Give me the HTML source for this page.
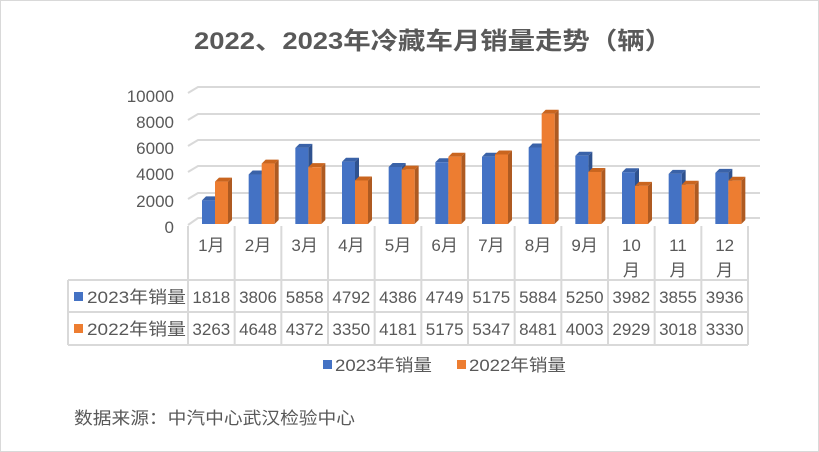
<!DOCTYPE html>
<html><head><meta charset="utf-8"><style>
html,body{margin:0;padding:0;background:#fff}
svg{display:block}
text{font-family:"Liberation Sans","Noto Sans CJK SC",sans-serif;fill:#595959}
</style></head><body>
<svg width="819" height="452" viewBox="0 0 819 452" xmlns="http://www.w3.org/2000/svg">
<rect x="0.5" y="0.5" width="818" height="451" fill="#fff" stroke="#d9d9d9"/>
<text x="433" y="49" text-anchor="middle" font-size="24" font-weight="bold" textLength="478" lengthAdjust="spacingAndGlyphs">2022、2023年冷藏车月销量走势（辆）</text>
<g stroke="#d9d9d9" stroke-width="2" fill="none">
<path d="M188 93 L198 87 L760 87"/>
<path d="M188 120 L198 114 L760 114"/>
<path d="M188 146 L198 140 L760 140"/>
<path d="M188 172 L198 166 L760 166"/>
<path d="M188 199 L198 193 L760 193"/>
<path d="M188 225 L198 218 L760 218"/>
</g>
<g font-size="17" text-anchor="end">
<text x="174" y="102">10000</text>
<text x="174" y="128">8000</text>
<text x="174" y="154">6000</text>
<text x="174" y="180">4000</text>
<text x="174" y="207">2000</text>
<text x="174" y="233">0</text>
</g>
<g id="bars"></g>
<g stroke="#d9d9d9" stroke-width="2" fill="none" id="grid"></g>
<g font-size="17" id="tbl"></g>
<rect x="323" y="360" width="9" height="9" fill="#4472c4"/>
<text x="335" y="371" font-size="17" textLength="97" lengthAdjust="spacingAndGlyphs">2023年销量</text>
<rect x="457" y="360" width="9" height="9" fill="#ed7d31"/>
<text x="469" y="371" font-size="17" textLength="97" lengthAdjust="spacingAndGlyphs">2022年销量</text>
<text x="74" y="424" font-size="17" textLength="281" lengthAdjust="spacingAndGlyphs">数据来源：中汽中心武汉检验中心</text>
<script>
var a=[1818,3806,5858,4792,4386,4749,5175,5884,5250,3982,3855,3936];
var b=[3263,4648,4372,3350,4181,5175,5347,8481,4003,2929,3018,3330];
var ns="http://www.w3.org/2000/svg";
function el(p,t,at,txt){var e=document.createElementNS(ns,t);for(var k in at)e.setAttribute(k,at[k]);if(txt!=null)e.textContent=txt;document.getElementById(p).appendChild(e);}
var cw=560/12,base=224,s=0.013;
function bar(x,v,c,top,side){var h=v*s,y=base-h;
el("bars","polygon",{points:(x+13)+","+y+" "+(x+17)+","+(y-4)+" "+(x+17)+","+(base-4)+" "+(x+13)+","+base,fill:side});
el("bars","polygon",{points:x+","+y+" "+(x+4)+","+(y-4)+" "+(x+17)+","+(y-4)+" "+(x+13)+","+y,fill:top});
el("bars","rect",{x:x,y:y,width:13,height:h,fill:c});}
for(var i=0;i<12;i++){var L=188+cw*i;
bar(L+14,a[i],"#4472c4","#3a62a8","#2f528f");
bar(L+27,b[i],"#ed7d31","#c9651f","#ae5a21");
var cx=L+cw/2;
if(i<9){el("tbl","text",{x:cx,y:251,"text-anchor":"middle"},(i+1)+"月");}
else{el("tbl","text",{x:cx,y:251,"text-anchor":"middle"},String(i+1));el("tbl","text",{x:cx,y:276,"text-anchor":"middle"},"月");}
el("tbl","text",{x:cx,y:303,"text-anchor":"middle"},a[i]);
el("tbl","text",{x:cx,y:335,"text-anchor":"middle"},b[i]);}
for(var i=0;i<=12;i++){var x=188+cw*i;el("grid","line",{x1:x,y1:226,x2:x,y2:345});}
el("grid","line",{x1:68,y1:280,x2:748,y2:280});
el("grid","line",{x1:68,y1:312,x2:748,y2:312});
el("grid","line",{x1:68,y1:345,x2:748,y2:345});
el("grid","line",{x1:68,y1:280,x2:68,y2:345});
el("grid","rect",{x:74,y:292,width:9,height:9,fill:"#4472c4",stroke:"none"});
el("grid","rect",{x:74,y:324,width:9,height:9,fill:"#ed7d31",stroke:"none"});
el("tbl","text",{x:87,y:303,textLength:99,lengthAdjust:"spacingAndGlyphs"},"2023年销量");
el("tbl","text",{x:87,y:335,textLength:99,lengthAdjust:"spacingAndGlyphs"},"2022年销量");
</script>
</svg>
</body></html>
